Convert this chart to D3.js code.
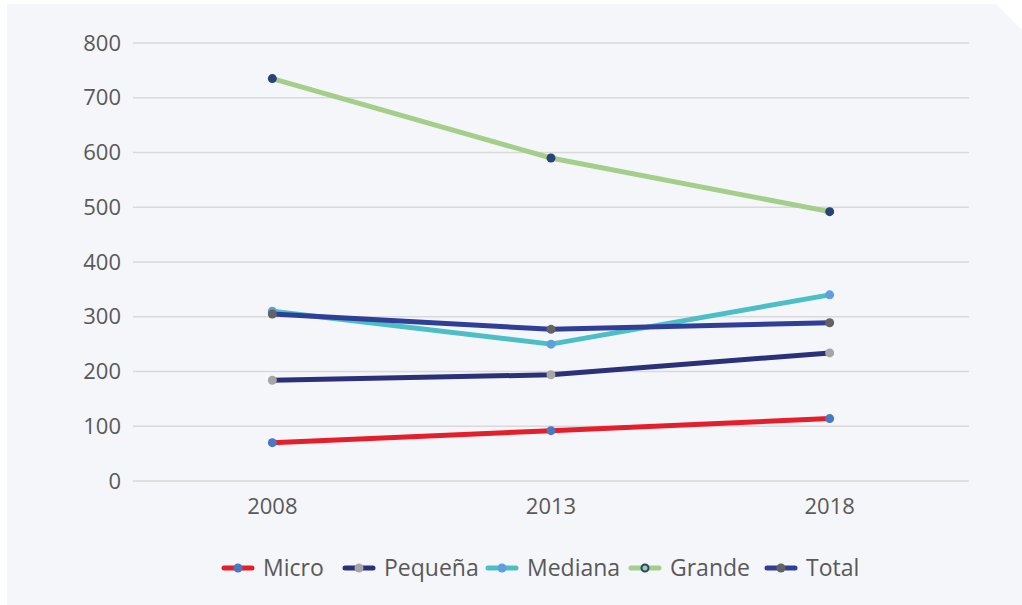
<!DOCTYPE html>
<html><head><meta charset="utf-8">
<script src="https://cdn.jsdelivr.net/npm/d3@7"></script>
<style>
html,body{margin:0;padding:0;background:#fff;}
svg{display:block;font-family:"Open Sans",sans-serif;}
</style></head>
<body>
<svg id="chart" width="1022" height="605"></svg>
<script>
const years = ["2008","2013","2018"];
const yTicks = [0,100,200,300,400,500,600,700,800];
const seriesNames = ["Micro","Pequeña","Mediana","Grande","Total"];
const micro   = [70, 92, 114];
const pequena = [184, 194, 234];
const mediana = [310, 250, 340];
const grande  = [735, 590, 492];
const total   = [305, 277, 289];
const lineColors   = ["#e41e2b","#2b3179","#4cbfc6","#a3cf8a","#2f3f97"];
const markerColors = ["#4a78c2","#a6a6a6","#5fa0dc","#264478","#636363"];

const seriesData = [micro, pequena, mediana, grande, total];
const svg = d3.select("#chart");

// panel with cut corner
svg.append("path")
  .attr("d","M7,4 L996,4 L1022,30 L1022,605 L7,605 Z")
  .attr("fill","#f5f6fa");

const x = d3.scalePoint().domain(years).range([133,969]).padding(0.5);
const y = d3.scaleLinear().domain([0,800]).range([481,43]);

// grid
svg.append("g").selectAll("line").data(yTicks).join("line")
  .attr("x1",133).attr("x2",969)
  .attr("y1",d=>y(d)).attr("y2",d=>y(d))
  .attr("stroke","#d9d9d9").attr("stroke-width",1.5);

// y labels
svg.append("g").selectAll("text").data(yTicks).join("text")
  .attr("x",121).attr("y",d=>y(d)).attr("dy","0.35em")
  .attr("text-anchor","end").attr("font-size",22).attr("fill","#595959")
  .text(d=>d);

// x labels
svg.append("g").selectAll("text").data(years).join("text")
  .attr("x",d=>x(d)).attr("y",514)
  .attr("text-anchor","middle").attr("font-size",22).attr("fill","#595959")
  .text(d=>d);

const line = d3.line().x((d,i)=>x(years[i])).y(d=>y(d));

seriesData.forEach((s,k)=>{
  const g = svg.append("g");
  g.append("path").datum(s).attr("d",line)
    .attr("fill","none").attr("stroke",lineColors[k]).attr("stroke-width",5)
    .attr("stroke-linejoin","round");
  g.selectAll("circle").data(s).join("circle")
    .attr("cx",(d,i)=>x(years[i])).attr("cy",d=>y(d)).attr("r",4.5)
    .attr("fill",markerColors[k]);
});

// legend
const legendX = [222,343,486,629,765];
const lg = svg.append("g");
seriesNames.forEach((n,k)=>{
  const g = lg.append("g").attr("transform",`translate(${legendX[k]},568)`);
  g.append("line").attr("x1",2).attr("x2",30).attr("y1",0).attr("y2",0)
    .attr("stroke",lineColors[k]).attr("stroke-width",5).attr("stroke-linecap","round");
  if(k===3){
    g.append("circle").attr("cx",16).attr("cy",0).attr("r",3.5)
      .attr("fill",lineColors[k]).attr("stroke",markerColors[k]).attr("stroke-width",2);
  } else {
    g.append("circle").attr("cx",16).attr("cy",0).attr("r",4.5).attr("fill",markerColors[k]);
  }
  g.append("text").attr("x",41).attr("y",0).attr("dy","0.35em")
    .attr("font-size",23).attr("fill","#595959").text(n);
});
</script>
</body></html>
